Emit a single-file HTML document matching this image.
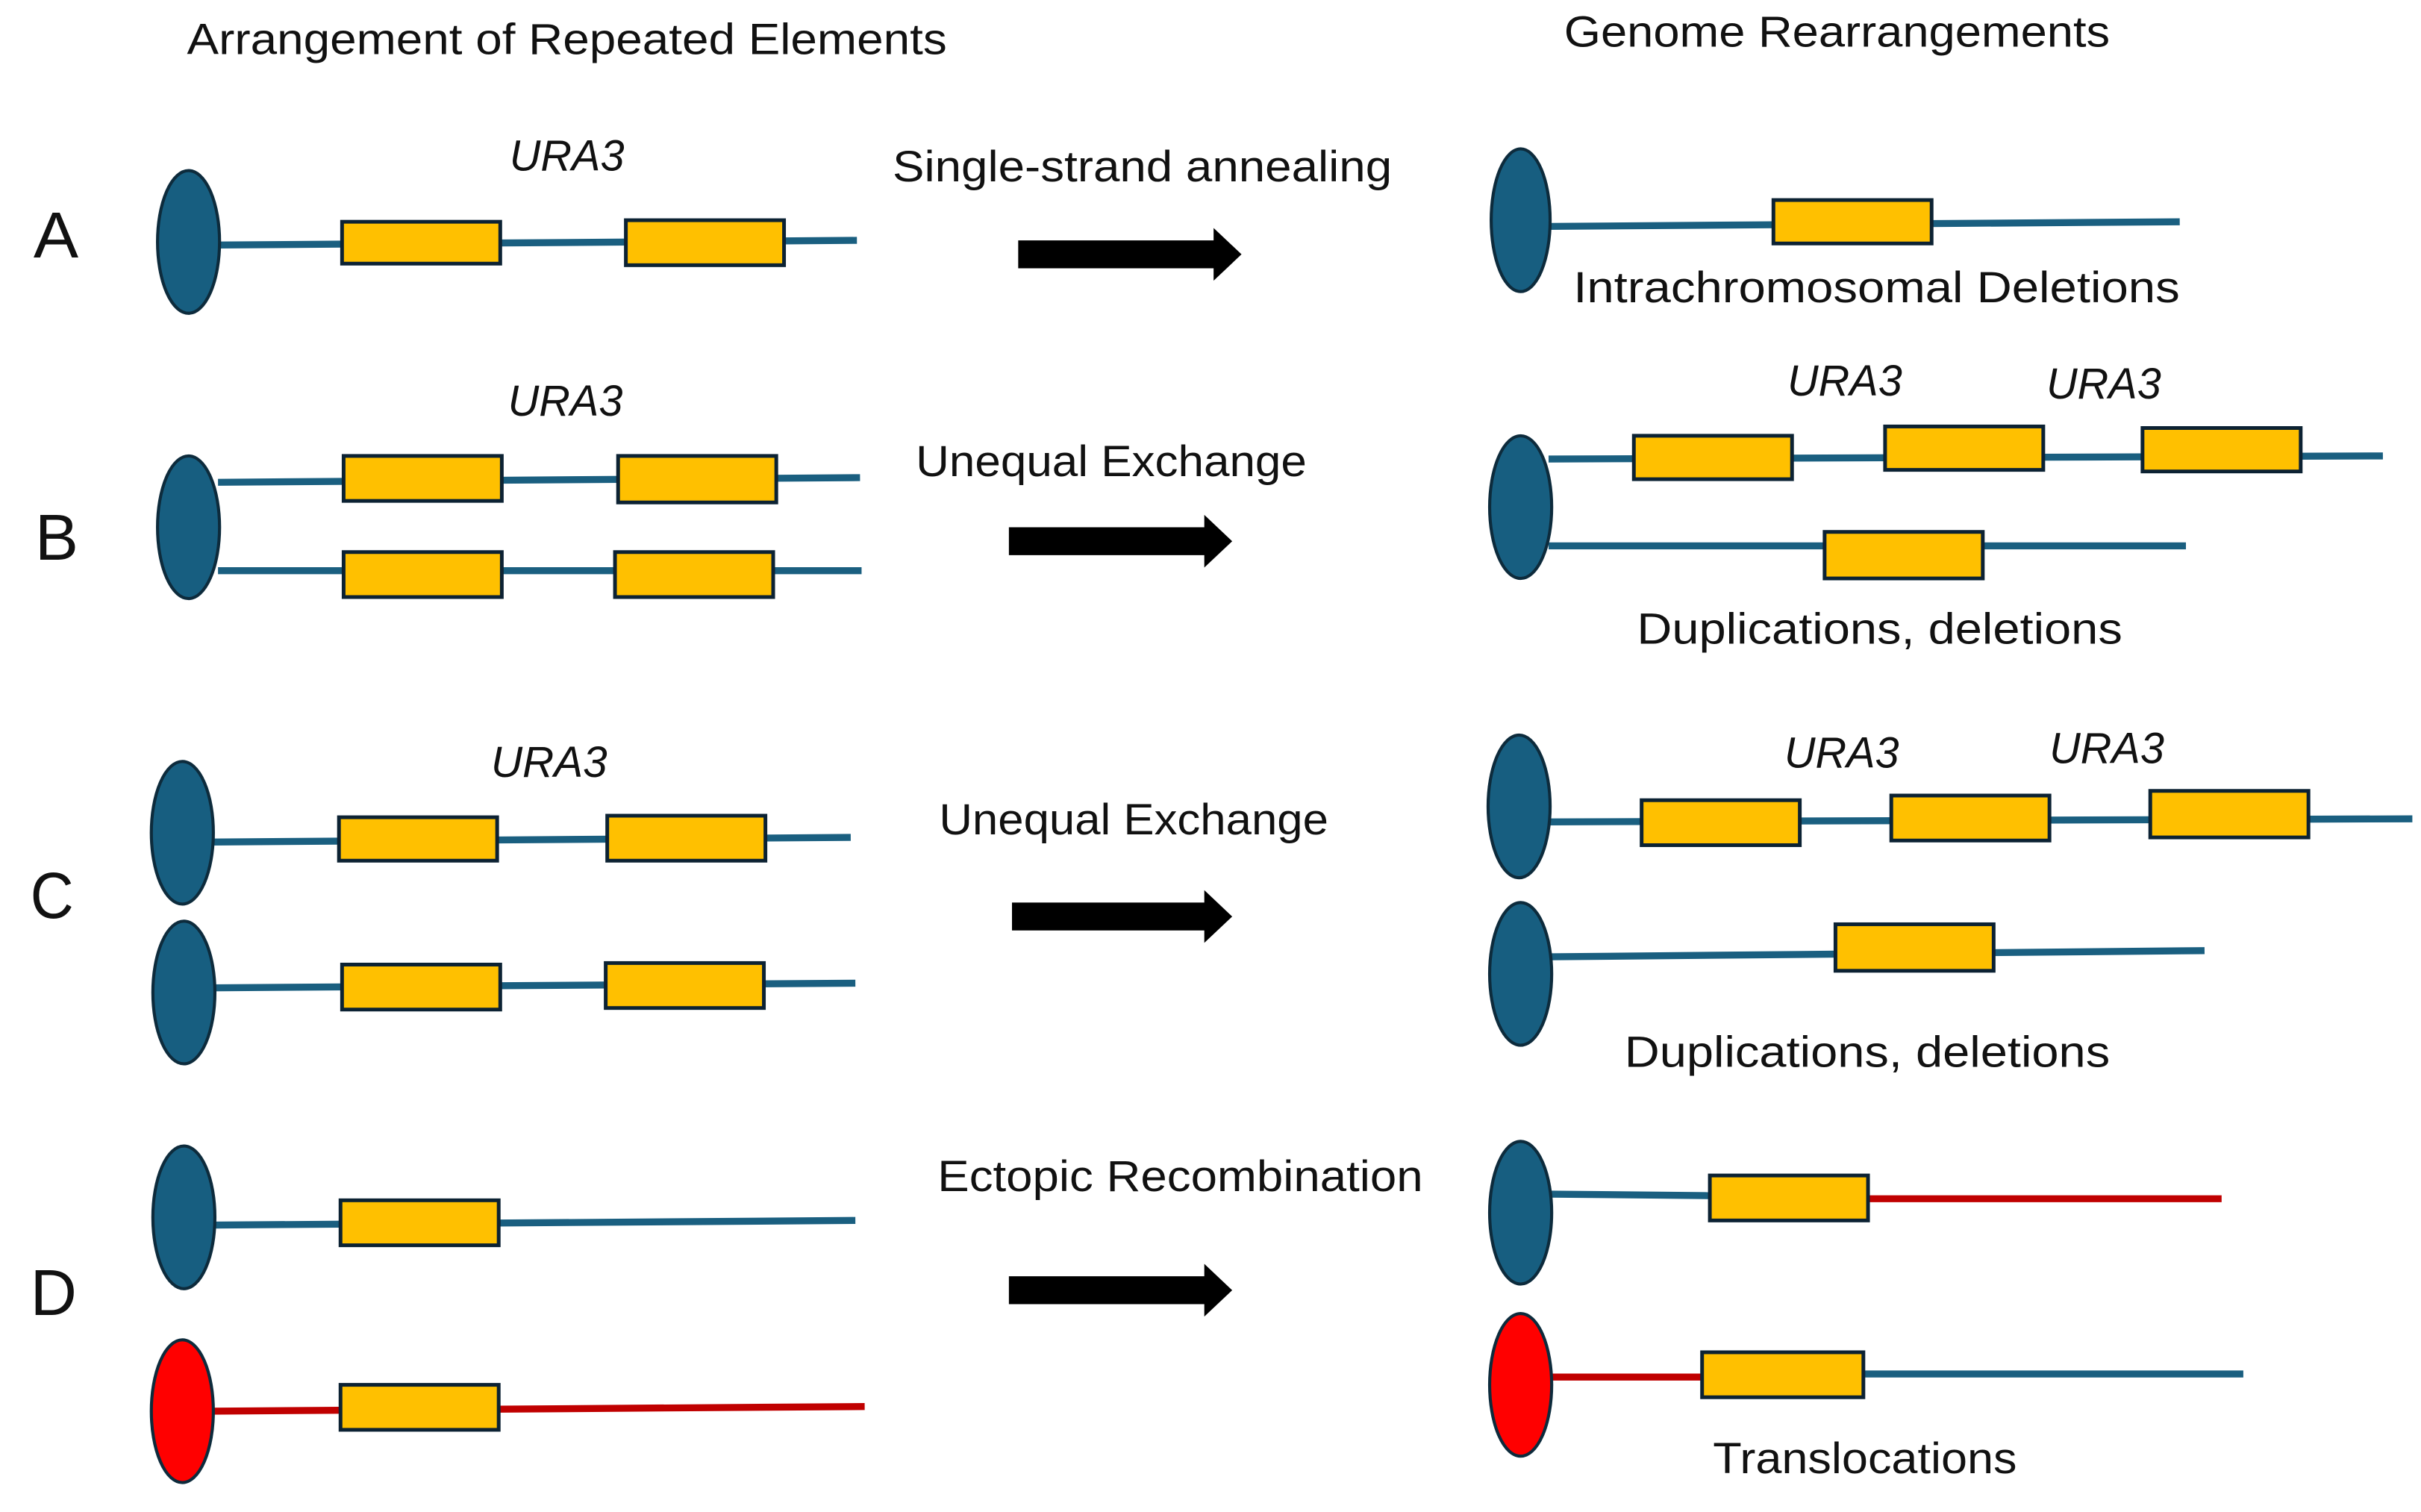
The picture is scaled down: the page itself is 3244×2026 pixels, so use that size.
<!DOCTYPE html>
<html><head><meta charset="utf-8"><style>
html,body{margin:0;padding:0;background:#fff}
svg{display:block}
text{font-family:"Liberation Sans",sans-serif;fill:#111}
</style></head><body>
<svg width="3244" height="2026" viewBox="0 0 1560 975" xmlns="http://www.w3.org/2000/svg">
<defs>
<style>
.e{fill:#175e80;stroke:#0d2b3c;stroke-width:2}
.r{fill:#ff0000;stroke:#0d2b3c;stroke-width:2}
.b{fill:#ffc000;stroke:#0c2233;stroke-width:2.4}
.l{stroke:#1a5f80;stroke-width:4.5;fill:none}
.lr{stroke:#c00000;stroke-width:4.5;fill:none}
.t{font-size:28px}
.i{font-size:28px;font-style:italic}
.L{font-size:42px}
</style>
</defs>
<text class="t" x="120" y="35" textLength="490" lengthAdjust="spacingAndGlyphs">Arrangement of Repeated Elements</text>
<text class="t" x="1008" y="30" textLength="352" lengthAdjust="spacingAndGlyphs">Genome Rearrangements</text>
<text class="L" x="21" y="166" textLength="29" lengthAdjust="spacingAndGlyphs">A</text>
<text class="L" x="22" y="361" textLength="28" lengthAdjust="spacingAndGlyphs">B</text>
<text class="L" x="19" y="592" textLength="28" lengthAdjust="spacingAndGlyphs">C</text>
<text class="L" x="19" y="848" textLength="30" lengthAdjust="spacingAndGlyphs">D</text>

<!-- A -->
<line class="l" x1="140" y1="158" x2="552" y2="155"/>
<ellipse class="e" cx="121" cy="156" rx="20" ry="46"/>
<rect class="b" x="220" y="143" width="102" height="27"/>
<rect class="b" x="403" y="142" width="102" height="29"/>
<text class="i" x="328" y="110" textLength="74" lengthAdjust="spacingAndGlyphs">URA3</text>
<text class="t" x="575" y="117" textLength="322" lengthAdjust="spacingAndGlyphs">Single-strand annealing</text>
<path d="M656 155H782V147L800 164L782 181V173H656Z" fill="#000"/>
<line class="l" x1="998" y1="146" x2="1405" y2="143"/>
<ellipse class="e" cx="980" cy="142" rx="19" ry="46"/>
<rect class="b" x="1143" y="129" width="102" height="28"/>
<text class="t" x="1014" y="195" textLength="391" lengthAdjust="spacingAndGlyphs">Intrachromosomal Deletions</text>

<!-- B -->
<line class="l" x1="140" y1="311" x2="554" y2="308"/>
<line class="l" x1="140" y1="368" x2="555" y2="368"/>
<ellipse class="e" cx="121" cy="340" rx="20" ry="46"/>
<rect class="b" x="221" y="294" width="102" height="29"/>
<rect class="b" x="398" y="294" width="102" height="30"/>
<rect class="b" x="221" y="356" width="102" height="29"/>
<rect class="b" x="396" y="356" width="102" height="29"/>
<text class="i" x="327" y="268" textLength="74" lengthAdjust="spacingAndGlyphs">URA3</text>
<text class="t" x="590" y="307" textLength="252" lengthAdjust="spacingAndGlyphs">Unequal Exchange</text>
<path d="M650 340H776V332L794 349L776 366V358H650Z" fill="#000"/>
<line class="l" x1="998" y1="296" x2="1536" y2="294"/>
<line class="l" x1="998" y1="352" x2="1409" y2="352"/>
<ellipse class="e" cx="980" cy="327" rx="20" ry="46"/>
<rect class="b" x="1053" y="281" width="102" height="28"/>
<rect class="b" x="1215" y="275" width="102" height="28"/>
<rect class="b" x="1381" y="276" width="102" height="28"/>
<rect class="b" x="1176" y="343" width="102" height="30"/>
<text class="i" x="1152" y="255" textLength="74" lengthAdjust="spacingAndGlyphs">URA3</text>
<text class="i" x="1319" y="257" textLength="74" lengthAdjust="spacingAndGlyphs">URA3</text>
<text class="t" x="1055" y="415" textLength="313" lengthAdjust="spacingAndGlyphs">Duplications, deletions</text>

<!-- C -->
<line class="l" x1="135" y1="543" x2="548" y2="540"/>
<line class="l" x1="135" y1="637" x2="551" y2="634"/>
<ellipse class="e" cx="117" cy="537" rx="20" ry="46"/>
<ellipse class="e" cx="118" cy="640" rx="20" ry="46"/>
<rect class="b" x="218" y="527" width="102" height="28"/>
<rect class="b" x="391" y="526" width="102" height="29"/>
<rect class="b" x="220" y="622" width="102" height="29"/>
<rect class="b" x="390" y="621" width="102" height="29"/>
<text class="i" x="316" y="501" textLength="75" lengthAdjust="spacingAndGlyphs">URA3</text>
<text class="t" x="605" y="538" textLength="251" lengthAdjust="spacingAndGlyphs">Unequal Exchange</text>
<path d="M652 582H776V574L794 591L776 608V600H652Z" fill="#000"/>
<line class="l" x1="998" y1="530" x2="1555" y2="528"/>
<line class="l" x1="998" y1="617" x2="1421" y2="613"/>
<ellipse class="e" cx="979" cy="520" rx="20" ry="46"/>
<ellipse class="e" cx="980" cy="628" rx="20" ry="46"/>
<rect class="b" x="1058" y="516" width="102" height="29"/>
<rect class="b" x="1219" y="513" width="102" height="29"/>
<rect class="b" x="1386" y="510" width="102" height="30"/>
<rect class="b" x="1183" y="596" width="102" height="30"/>
<text class="i" x="1150" y="495" textLength="74" lengthAdjust="spacingAndGlyphs">URA3</text>
<text class="i" x="1321" y="492" textLength="74" lengthAdjust="spacingAndGlyphs">URA3</text>
<text class="t" x="1047" y="688" textLength="313" lengthAdjust="spacingAndGlyphs">Duplications, deletions</text>

<!-- D -->
<line class="l" x1="135" y1="790" x2="551" y2="787"/>
<line class="lr" x1="135" y1="910" x2="557" y2="907"/>
<ellipse class="e" cx="118" cy="785" rx="20" ry="46"/>
<ellipse class="r" cx="117" cy="910" rx="20" ry="46"/>
<rect class="b" x="219" y="774" width="102" height="29"/>
<rect class="b" x="219" y="893" width="102" height="29"/>
<text class="t" x="604" y="768" textLength="313" lengthAdjust="spacingAndGlyphs">Ectopic Recombination</text>
<path d="M650 823H776V815L794 832L776 849V841H650Z" fill="#000"/>
<line class="l" x1="998" y1="770" x2="1102" y2="771"/>
<line class="lr" x1="1204" y1="773" x2="1432" y2="773"/>
<line class="lr" x1="998" y1="888" x2="1097" y2="888"/>
<line class="l" x1="1201" y1="886" x2="1446" y2="886"/>
<ellipse class="e" cx="980" cy="782" rx="20" ry="46"/>
<ellipse class="r" cx="980" cy="893" rx="20" ry="46"/>
<rect class="b" x="1102" y="758" width="102" height="29"/>
<rect class="b" x="1097" y="872" width="104" height="29"/>
<text class="t" x="1104" y="950" textLength="196" lengthAdjust="spacingAndGlyphs">Translocations</text>
</svg>
</body></html>
